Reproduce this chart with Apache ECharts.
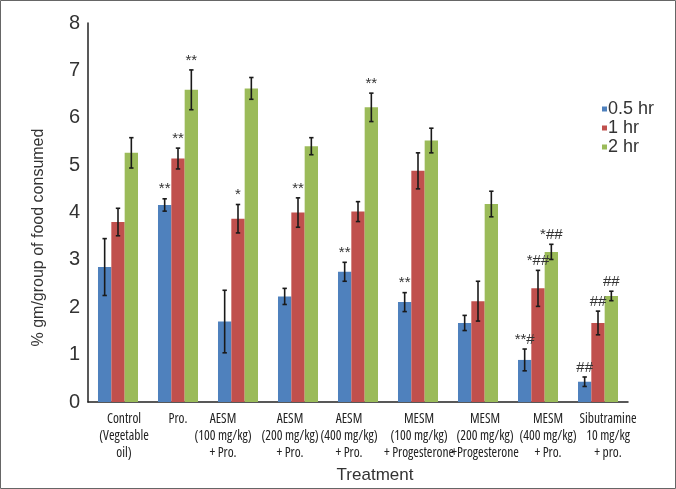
<!DOCTYPE html>
<html>
<head>
<meta charset="utf-8">
<script src="https://cdn.jsdelivr.net/npm/echarts@6/dist/echarts.min.js"></script>
<style>
html,body{margin:0;padding:0;background:#fff;}
#chart{width:676px;height:489px;}
</style>
</head>
<body>
<div id="chart"></div>
<script>
const categories = [
  'Control\n(Vegetable\noil)',
  'Pro.',
  'AESM\n(100 mg/kg)\n+ Pro.',
  'AESM\n(200 mg/kg)\n+ Pro.',
  'AESM\n(400 mg/kg)\n+ Pro.',
  'MESM\n(100 mg/kg)\n+ Progesterone',
  'MESM\n(200 mg/kg)\n+Progesterone',
  'MESM\n(400 mg/kg)\n+ Pro.',
  'Sibutramine\n10 mg/kg\n+ pro.'
];
const seriesNames = ['0.5 hr', '1 hr', '2 hr'];
const values05 = [2.85, 4.16, 1.70, 2.23, 2.75, 2.11, 1.67, 0.89, 0.43];
const values1  = [3.80, 5.14, 3.87, 4.00, 4.02, 4.88, 2.13, 2.40, 1.67];
const values2  = [5.26, 6.59, 6.62, 5.40, 6.22, 5.52, 4.18, 3.17, 2.24];
const err05 = [0.60, 0.13, 0.66, 0.17, 0.20, 0.20, 0.16, 0.23, 0.10];
const err1  = [0.29, 0.22, 0.30, 0.31, 0.21, 0.38, 0.42, 0.38, 0.25];
const err2  = [0.32, 0.42, 0.23, 0.18, 0.30, 0.26, 0.27, 0.16, 0.10];
const sig05 = ['', '**', '', '', '**', '**', '', '**#', '##'];
const sig1  = ['', '**', '*', '**', '', '', '', '*##', '##'];
const sig2  = ['', '**', '', '', '**', '', '', '*##', '##'];
const yTicks = [0, 1, 2, 3, 4, 5, 6, 7, 8];

// styling (not data): colours, fonts and small horizontal nudges of the category labels
const colors = ['#4F81BD', '#C0504D', '#9BBB59'];
const labelNudge = [6, 0, -15, -8, -9, 1, 7, 10, 10];
const gapRatio = 1 / 3;
const sans = "'Liberation Sans', Arial, sans-serif";

function errSeries(k, vals, errs, sigs) {
  return {
    type: 'custom',
    z: 5,
    silent: true,
    data: vals.map((v, i) => [i, v, errs[i]]),
    encode: { x: 0, y: 1 },
    renderItem: function (params, api) {
      const i = api.value(0), v = api.value(1), e = api.value(2);
      const c = api.coord([i, v]);
      const bandW = api.size([1, 0])[0];
      const bw = bandW * (1 - gapRatio) / 3;
      const x = c[0] + (k - 1) * bw;
      const top = api.coord([i, v + e])[1];
      const bot = api.coord([i, v - e])[1];
      const cap = 2.2;
      const st = { stroke: '#1a1a1a', lineWidth: 1.6 };
      const children = [
        { type: 'line', shape: { x1: x, y1: top, x2: x, y2: bot }, style: st },
        { type: 'line', shape: { x1: x - cap, y1: top, x2: x + cap, y2: top }, style: st },
        { type: 'line', shape: { x1: x - cap, y1: bot, x2: x + cap, y2: bot }, style: st }
      ];
      const s = sigs[params.dataIndex];
      if (s) {
        children.push({
          type: 'text',
          style: {
            text: s, x: x, y: top - 2,
            align: 'center', verticalAlign: 'bottom',
            fill: '#333', font: '15px ' + sans
          }
        });
      }
      return { type: 'group', children: children };
    }
  };
}

const categoryItems = categories.map((c, i) => {
  const n = labelNudge[i];
  return {
    value: c,
    textStyle: { padding: n >= 0 ? [0, 0, 0, 2 * n] : [0, -2 * n, 0, 0] }
  };
});

const chart = echarts.init(document.getElementById('chart'));
chart.setOption({
  animation: false,
  backgroundColor: '#fff',
  color: colors,
  graphic: [{
    type: 'rect', silent: true, z: 100,
    shape: { x: 0.5, y: 0.5, width: 675, height: 488 },
    style: { fill: 'none', stroke: '#666', lineWidth: 1 }
  }],
  grid: { left: 88, right: 48, top: 23, bottom: 86 },
  legend: {
    data: seriesNames,
    orient: 'vertical',
    left: 597, top: 95,
    itemWidth: 5, itemHeight: 5, itemGap: 1,
    icon: 'rect',
    textStyle: { fontFamily: sans, fontSize: 18, color: '#333', padding: [0, 0, 0, -4] }
  },
  xAxis: {
    type: 'category',
    data: categoryItems,
    name: 'Treatment',
    nameLocation: 'middle',
    nameGap: 59,
    nameTextStyle: { fontFamily: sans, fontSize: 17, color: '#333', padding: [0, 0, 0, 34] },
    axisLine: { lineStyle: { color: '#222', width: 1.5 } },
    axisTick: { show: false },
    axisLabel: {
      interval: 0, margin: 9,
      fontFamily: "'Open Sans', sans-serif", fontWeight: 'semi-condensed',
      fontSize: 13.5, lineHeight: 17, color: '#222'
    }
  },
  yAxis: {
    type: 'value',
    min: yTicks[0], max: yTicks[yTicks.length - 1], interval: 1,
    name: '% gm/group of food consumed',
    nameLocation: 'middle',
    nameGap: 41,
    nameTextStyle: { fontFamily: sans, fontSize: 16, color: '#333', padding: [0, 50, 0, 0] },
    axisLine: { show: true, lineStyle: { color: '#222', width: 1.5 } },
    axisTick: { show: false },
    splitLine: { show: false },
    axisLabel: { margin: 8, fontFamily: sans, fontSize: 20, color: '#333' }
  },
  series: [
    { type: 'bar', name: seriesNames[0], data: values05, barGap: '0%', barCategoryGap: '33.3%' },
    { type: 'bar', name: seriesNames[1], data: values1, barGap: '0%', barCategoryGap: '33.3%' },
    { type: 'bar', name: seriesNames[2], data: values2, barGap: '0%', barCategoryGap: '33.3%' },
    errSeries(0, values05, err05, sig05),
    errSeries(1, values1, err1, sig1),
    errSeries(2, values2, err2, sig2)
  ]
});
</script>
</body>
</html>
